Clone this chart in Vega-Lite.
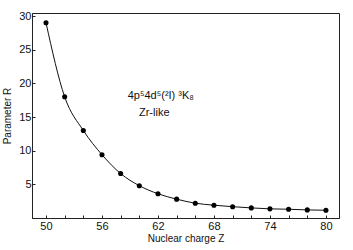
{
  "$schema": "https://vega.github.io/schema/vega-lite/v6.json",
  "width": 307,
  "height": 205,
  "autosize": {"type": "none"},
  "padding": {"left": 32, "top": 13, "right": 14, "bottom": 32},
  "background": "white",
  "config": {
    "view": {"stroke": "#222", "strokeWidth": 1},
    "font": "Liberation Sans",
    "axis": {
      "domainColor": "#222",
      "tickColor": "#222",
      "labelColor": "#111",
      "titleColor": "#111",
      "labelFont": "Liberation Sans",
      "titleFont": "Liberation Sans",
      "labelFontSize": 11,
      "titleFontSize": 10,
      "titleFontWeight": "normal",
      "grid": false,
      "tickSize": -3
    }
  },
  "data": {
    "values": [
      {"Z": 50, "R": 29.0},
      {"Z": 52, "R": 18.0},
      {"Z": 54, "R": 13.0},
      {"Z": 56, "R": 9.4},
      {"Z": 58, "R": 6.6},
      {"Z": 60, "R": 4.8},
      {"Z": 62, "R": 3.6},
      {"Z": 64, "R": 2.8},
      {"Z": 66, "R": 2.2},
      {"Z": 68, "R": 1.9},
      {"Z": 70, "R": 1.68},
      {"Z": 72, "R": 1.5},
      {"Z": 74, "R": 1.36},
      {"Z": 76, "R": 1.3},
      {"Z": 78, "R": 1.2},
      {"Z": 80, "R": 1.15}
    ]
  },
  "layer": [
    {
      "encoding": {
        "x": {
          "field": "Z", "type": "quantitative",
          "scale": {"domain": [48.5, 81.4], "nice": false, "zero": false},
          "axis": {
            "title": "Nuclear charge  Z",
            "values": [50, 52, 54, 56, 58, 60, 62, 64, 66, 68, 70, 72, 74, 76, 78, 80],
            "labelExpr": "(datum.value - 50) % 6 == 0 ? datum.label : '\u2009'",
            "labelOverlap": false,
            "labelPadding": 5,
            "titlePadding": 2
          }
        },
        "y": {
          "field": "R", "type": "quantitative",
          "scale": {"domain": [0, 30.45], "nice": false},
          "axis": {
            "title": "Parameter  R",
            "values": [5, 10, 15, 20, 25, 30],
            "labelOverlap": false,
            "labelPadding": 4,
            "titlePadding": 6
          }
        }
      },
      "layer": [
        {"mark": {"type": "line", "color": "#111", "strokeWidth": 1, "interpolate": "monotone"}},
        {"mark": {"type": "point", "filled": true, "color": "#000", "size": 26, "opacity": 1}}
      ]
    },
    {
      "data": {"values": [{"label": "4p⁵4d⁵(²I)  ³K₈", "px": 62.3, "py": 18.1}, {"label": "Zr-like", "px": 61.6, "py": 15.6}]},
      "mark": {"type": "text", "fontSize": 11, "align": "center", "baseline": "middle", "color": "#111", "font": "Liberation Sans"},
      "encoding": {
        "x": {
          "field": "px", "type": "quantitative",
          "axis": {
            "title": "Nuclear charge  Z",
            "values": [50, 52, 54, 56, 58, 60, 62, 64, 66, 68, 70, 72, 74, 76, 78, 80],
            "labelExpr": "(datum.value - 50) % 6 == 0 ? datum.label : '\u2009'",
            "labelOverlap": false,
            "labelPadding": 5,
            "titlePadding": 2
          }
        },
        "y": {
          "field": "py", "type": "quantitative",
          "axis": {
            "title": "Parameter  R",
            "values": [5, 10, 15, 20, 25, 30],
            "labelOverlap": false,
            "labelPadding": 4,
            "titlePadding": 6
          }
        },
        "text": {"field": "label"}
      }
    }
  ]
}
